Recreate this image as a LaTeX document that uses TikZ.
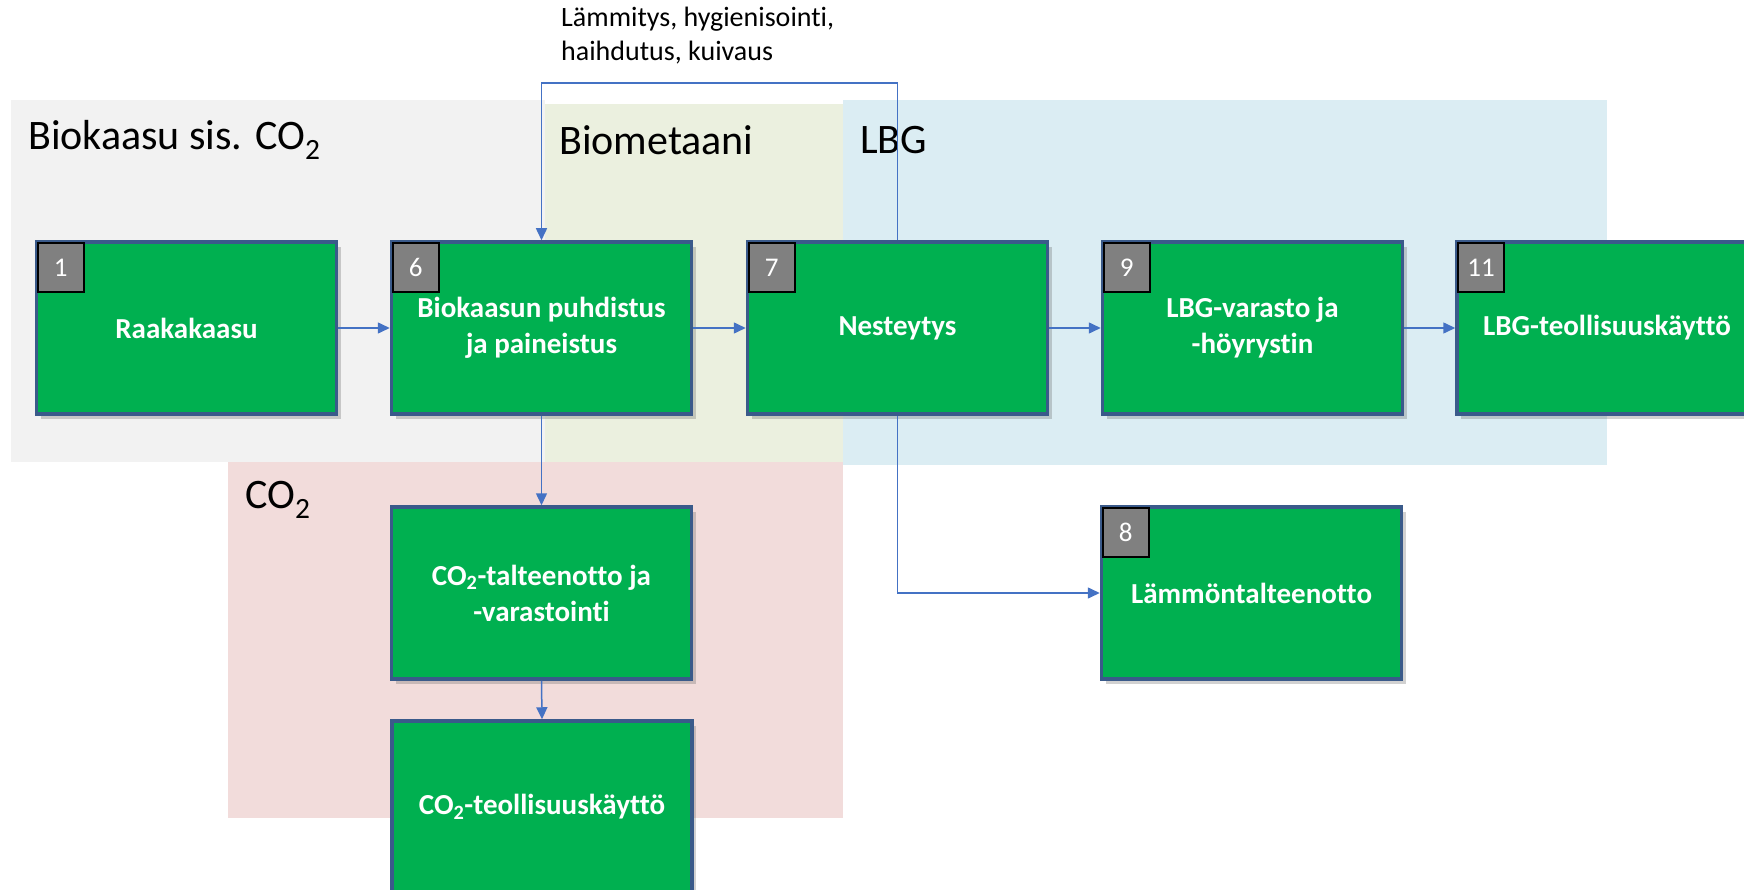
\documentclass[tikz,border=0pt]{standalone}
\usepackage{fontspec}
\setmainfont{Carlito}[Ligatures=NoCommon]
\usetikzlibrary{shadows,arrows.meta}
\definecolor{boxgreen}{HTML}{00B050}
\definecolor{boxborder}{HTML}{3A5A8A}
\definecolor{arrowblue}{HTML}{4472C4}
\definecolor{reggrey}{HTML}{F2F2F2}
\definecolor{regbeige}{HTML}{EBF0DF}
\definecolor{regblue}{HTML}{DBEDF3}
\definecolor{regpink}{HTML}{F2DCDB}
\definecolor{badgegrey}{HTML}{808080}
\tikzset{
  procbox/.style={draw=boxborder, line width=3.5pt, fill=boxgreen, minimum width=300pt, minimum height=172pt,
    text=white, font=\fontsize{29}{36}\selectfont\bfseries, align=center, inner sep=2pt,
    drop shadow={opacity=0.3, shadow xshift=4pt, shadow yshift=-5pt, fill=black!60}},
  badge/.style={draw=black, line width=1.8pt, fill=badgegrey, minimum width=46pt, minimum height=49pt,
    text=white, font=\fontsize{27}{30}\selectfont, inner sep=0pt, anchor=north west},
  flow/.style={draw=arrowblue, line width=1.5pt, -{Triangle[length=12pt,width=11pt]}},
  region/.style={font=\fontsize{42}{46}\selectfont, anchor=west, inner sep=0pt},
}
\begin{document}
\begin{tikzpicture}[x=1pt,y=-1pt]
\useasboundingbox (0,0) rectangle (1744,890);
% regions
\fill[reggrey] (11,100) rectangle (545,462);
\fill[regbeige] (545,104) rectangle (843,462);
\fill[regblue] (843,100) rectangle (1607,465);
\fill[regpink] (228,462) rectangle (843,818);
\node[region] (rbio) at (28,140) {Biokaasu sis. CO\textsubscript{2}};
\node[region] (rmet) at (559,140) {Biometaani};
\node[region] (rlbg) at (860,140) {LBG};
\node[region] (rco) at (245,500) {CO\textsubscript{2}};
% boxes
\node[procbox] (b1) at (186.5,328) {Raakakaasu};
\node[procbox] (b6) at (541.5,328) {Biokaasun puhdistus\\ja paineistus};
\node[procbox] (b7) at (897.5,328) {Nesteytys};
\node[procbox] (b9) at (1252.5,328) {LBG-varasto ja\\-höyrystin};
\node[procbox] (b11) at (1607,328) {LBG-teollisuuskäyttö};
\node[procbox] (c1) at (541.5,593) {CO\textsubscript{2}-talteenotto ja\\-varastointi};
\node[procbox] (c2) at (542,807) {CO\textsubscript{2}-teollisuuskäyttö};
\node[procbox] (b8) at (1251.5,593) {Lämmöntalteenotto};
% badges
\node[badge] (n1) at ([shift={(2,2)}]b1.north west) {1};
\node[badge] (n6) at ([shift={(2,2)}]b6.north west) {6};
\node[badge] (n7) at ([shift={(2,2)}]b7.north west) {7};
\node[badge] (n9) at ([shift={(2,2)}]b9.north west) {9};
\node[badge] (n11) at ([shift={(2,2)}]b11.north west) {11};
\node[badge] (n8) at ([shift={(2,2)}]b8.north west) {8};
% top label
\node[anchor=north west, align=left, inner sep=0pt, font=\fontsize{28}{34}\selectfont] (lab) at (561,7)
  {Lämmitys, hygienisointi,\\haihdutus, kuivaus};
\coordinate (t7) at (b7.north |- 0,83);
\coordinate (t6) at (b6.north |- 0,83);
% connectors
\draw[flow] (b1) -- (b6);
\draw[flow] (b6) -- (b7);
\draw[flow] (b7) -- (b9);
\draw[flow] (b9) -- (b11);
\draw[flow] (b7.north) -- (t7) -- (t6) -- (b6.north);
\draw[flow] (b7.south) |- (b8.west);
\draw[flow] (b6.south) -- (c1.north);
\draw[flow] (c1.south) -- (c2.north);
\end{tikzpicture}
\end{document}
